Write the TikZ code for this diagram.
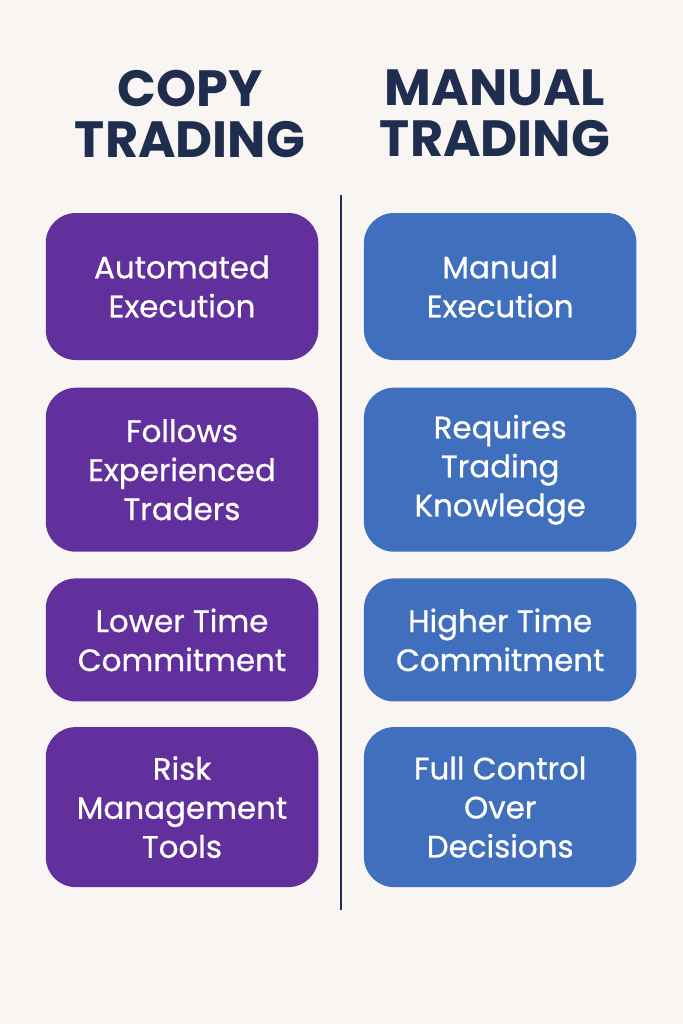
\documentclass[tikz,border=0pt]{standalone}
\usepackage{fontspec}
\setmainfont{Poppins}
\newfontfamily\cardfont{Poppins}[FakeBold=0.7]
\usepackage{xcolor}
\usetikzlibrary{positioning}

\definecolor{paper}{HTML}{F8F5F2}
\definecolor{navy}{HTML}{1F2D4E}
\definecolor{copypurple}{HTML}{62309C}
\definecolor{manualblue}{HTML}{4070BD}

\begin{document}
\begin{tikzpicture}[
    card/.style={
        rectangle,
        rounded corners=0.6cm,
        align=center,
        text=white,
        minimum width=5.45cm,
        font=\cardfont\fontsize{17.6}{22.2}\selectfont
    },
    copycard/.style={
        card,
        fill=copypurple
    },
    manualcard/.style={
        card,
        fill=manualblue
    },
    heading/.style={
        align=center,
        text=navy,
        font=\fontsize{29}{29}\selectfont\bfseries
    }
]

\fill[paper] (0,0) rectangle (13.66,-20.48);
\useasboundingbox (0,0) rectangle (13.66,-20.48);

% headings
\node[heading] (copyhead) at (3.8,-2.27) {COPY\\TRADING};
\node[heading] (manualhead) at (9.9,-2.27) {MANUAL\\TRADING};

% copy trading column
\node[copycard, minimum height=2.94cm] (c1) at (3.64,-5.73)
{Automated\\Execution};

\node[copycard, minimum height=3.28cm, below=0.54cm of c1] (c2)
{Follows\\Experienced\\Traders};

\node[copycard, minimum height=2.46cm, below=0.52cm of c2] (c3)
{Lower Time\\Commitment};

\node[copycard, minimum height=3.2cm, below=0.5cm of c3] (c4)
{Risk\\Management\\Tools};

% manual trading column
\node[manualcard, minimum height=2.94cm, right=0.9cm of c1] (m1)
{Manual\\Execution};

\node[manualcard, minimum height=3.28cm, right=0.9cm of c2] (m2)
{Requires\\Trading\\Knowledge};

\node[manualcard, minimum height=2.46cm, right=0.9cm of c3] (m3)
{Higher Time\\Commitment};

\node[manualcard, minimum height=3.2cm, right=0.9cm of c4] (m4)
{Full Control\\Over\\Decisions};

% divider
\coordinate (divtop) at (6.82,-3.9);
\coordinate (divbot) at (6.82,-18.2);
\draw[navy, line width=1.7pt] (divtop) -- (divbot);

\end{tikzpicture}
\end{document}
